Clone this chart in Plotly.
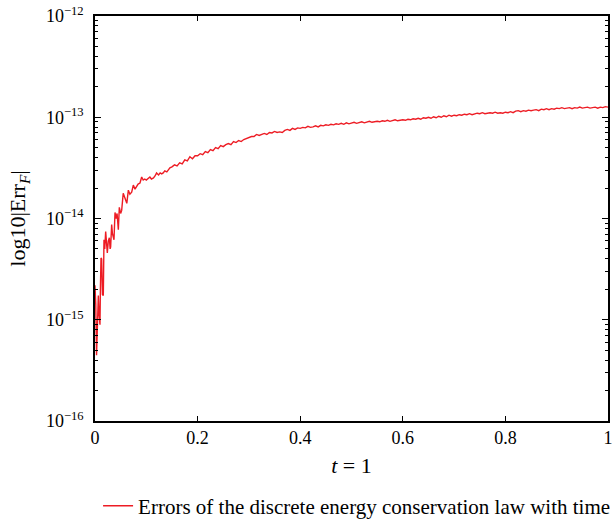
import numpy as np
import plotly.graph_objects as go

# ---- data (log10 of |Err_F|) ----
t_early = [0.000, 0.0015, 0.003, 0.0045, 0.0065, 0.008, 0.0097, 0.0105, 0.0117, 0.013,
           0.0145, 0.0162, 0.0175, 0.019, 0.0208, 0.022, 0.024, 0.026, 0.028, 0.0295,
           0.0305, 0.0325, 0.034, 0.037, 0.039, 0.041, 0.043, 0.0455, 0.0474, 0.050,
           0.052, 0.055, 0.058, 0.062, 0.065, 0.068, 0.0715, 0.0747, 0.078, 0.081,
           0.084, 0.0877, 0.091, 0.094, 0.097, 0.100, 0.104, 0.107, 0.110, 0.114,
           0.117, 0.120, 0.124, 0.127, 0.130, 0.133, 0.136, 0.140, 0.143, 0.146]
log_early = [-14.66, -14.85, -15.35, -15.10, -14.76, -14.95, -15.05, -14.70, -14.39, -14.40,
             -14.75, -14.76, -14.21, -14.30, -14.13, -14.25, -14.34, -14.22, -14.19, -14.30,
             -14.28, -14.06, -14.15, -14.21, -13.94, -14.00, -13.95, -14.11, -13.89, -13.95,
             -13.92, -13.75, -13.80, -13.85, -13.72, -13.76, -13.74, -13.67, -13.71, -13.69,
             -13.66, -13.65, -13.59, -13.62, -13.61, -13.62, -13.60, -13.59, -13.61, -13.60,
             -13.58, -13.55, -13.57, -13.55, -13.56, -13.55, -13.53, -13.54, -13.52, -13.50]

t_late = np.linspace(0.15, 1.0, 171)
log_late = [
    -13.49, -13.47, -13.48, -13.45, -13.46, -13.42, -13.43, -13.39, -13.41, -13.38,
    -13.38, -13.36, -13.37, -13.34, -13.35, -13.32, -13.33, -13.30, -13.31, -13.28,
    -13.29, -13.27, -13.26, -13.27, -13.24, -13.25, -13.23, -13.24, -13.22, -13.21,
    -13.20, -13.19, -13.19, -13.17, -13.18, -13.17, -13.16, -13.17, -13.15, -13.155,
    -13.14, -13.15, -13.145, -13.15, -13.13, -13.12, -13.13, -13.11, -13.12, -13.105,
    -13.11, -13.10, -13.105, -13.09, -13.10, -13.095, -13.085, -13.095, -13.08, -13.085,
    -13.075, -13.08, -13.07, -13.075, -13.065, -13.07, -13.06, -13.07, -13.055, -13.065,
    -13.06, -13.05, -13.06, -13.055, -13.045, -13.055, -13.05, -13.04, -13.05, -13.045,
    -13.04, -13.045, -13.035, -13.04, -13.03, -13.04, -13.035, -13.025, -13.035, -13.03,
    -13.025, -13.03, -13.02, -13.025, -13.015, -13.02, -13.01, -13.02, -13.005, -13.01,
    -13.00, -13.01, -12.995, -13.005, -12.99, -13.00, -12.985, -12.995, -12.98, -12.99,
    -12.98, -12.985, -12.975, -12.98, -12.97, -12.975, -12.965, -12.975, -12.965, -12.96,
    -12.965, -12.955, -12.965, -12.96, -12.955, -12.96, -12.95, -12.96, -12.955, -12.96,
    -12.95, -12.955, -12.945, -12.955, -12.94, -12.935, -12.945, -12.935, -12.94, -12.93,
    -12.935, -12.93, -12.925, -12.935, -12.92, -12.925, -12.915, -12.925, -12.915, -12.92,
    -12.91, -12.915, -12.905, -12.915, -12.91, -12.905, -12.915, -12.905, -12.91, -12.90,
    -12.91, -12.905, -12.90, -12.91, -12.905, -12.90, -12.91, -12.90, -12.905, -12.895,
    -12.90]

y_exponents = [-16, -15, -14, -13, -12]
y_ticktext = ["10<sup>−16</sup>", "10<sup>−15</sup>", "10<sup>−14</sup>",
              "10<sup>−13</sup>", "10<sup>−12</sup>"]
x_ticks = [0, 0.2, 0.4, 0.6, 0.8, 1]
x_ticktext = ["0", "0.2", "0.4", "0.6", "0.8", "1"]

t_all = list(t_early) + list(t_late)
err_all = [10.0 ** v for v in (log_early + log_late)]

FONT = "Liberation Serif"

fig = go.Figure()
fig.add_trace(go.Scatter(
    x=t_all, y=err_all, mode="lines",
    line=dict(color="rgb(237,28,36)", width=1.4),
    name="Errors of the discrete energy conservation law with time",
))

minor_vals = [k * 10.0 ** e for e in range(-16, -12) for k in range(2, 10)]

fig.update_layout(
    width=615, height=519,
    margin=dict(l=95, r=7, t=16, b=98, autoexpand=False),
    paper_bgcolor="white", plot_bgcolor="white",
    font=dict(family=FONT, size=18, color="black"),
    showlegend=True,
    legend=dict(orientation="h", x=0.006, xanchor="left", y=-0.21, yanchor="middle",
                font=dict(family=FONT, size=21), bgcolor="rgba(0,0,0,0)"),
    xaxis=dict(
        range=[0, 1], tickvals=x_ticks, ticktext=x_ticktext,
        showline=True, linecolor="black", linewidth=1.5, mirror="ticks",
        ticks="inside", ticklen=5, tickcolor="black", tickwidth=1,
        showgrid=False, zeroline=False,
        title=dict(text="<i>t</i> = 1", standoff=10),
    ),
    yaxis=dict(
        type="log", range=[-16, -12],
        tickvals=[10.0 ** e for e in y_exponents], ticktext=y_ticktext,
        showline=True, linecolor="black", linewidth=1.5, mirror="ticks",
        ticks="inside", ticklen=6, tickcolor="black", tickwidth=1,
        minor=dict(tickvals=minor_vals, ticks="inside", ticklen=3,
                   tickcolor="black", showgrid=False),
        showgrid=False, zeroline=False,
        ticklabelstandoff=6,
        title=dict(text="log10|Err<sub><i>F</i></sub>|", standoff=14),
    ),
)

fig.write_html("out.html")
